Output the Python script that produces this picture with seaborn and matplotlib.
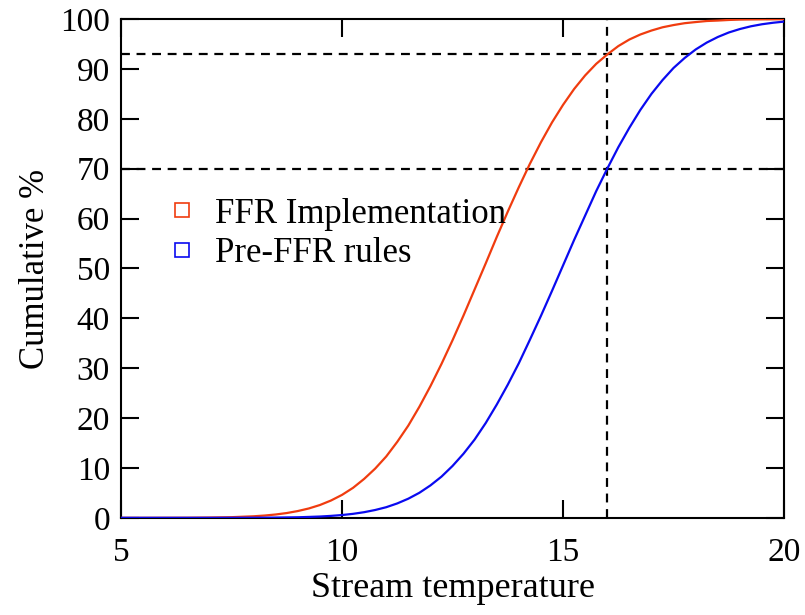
import numpy as np
import pandas as pd
import matplotlib
matplotlib.use("Agg")
import matplotlib.pyplot as plt
import seaborn as sns
from matplotlib.lines import Line2D

RED = "#f03c0f"
BLUE = "#0a0af0"

temps = [5.0, 5.5, 6.0, 6.5, 7.0, 7.5, 8.0, 8.25, 8.5, 8.75, 9.0, 9.25,
         9.5, 9.75, 10.0, 10.25, 10.5, 10.75, 11.0, 11.25, 11.5, 11.75,
         12.0, 12.25, 12.5, 12.75, 13.0, 13.25, 13.5, 13.75, 14.0, 14.25,
         14.5, 14.75, 15.0, 15.25, 15.5, 15.75, 16.0, 16.25, 16.5, 16.75,
         17.0, 17.25, 17.5, 17.75, 18.0, 18.25, 18.5, 18.75, 19.0, 19.25,
         19.5, 19.75, 20.0]
ffr_cum = [0.0, 0.0, 0.01, 0.02, 0.06, 0.13, 0.31, 0.46, 0.67, 0.96, 1.36, 1.88,
           2.57, 3.47, 4.6, 6.02, 7.8, 9.87, 12.3, 15.24, 18.5, 22.27,
           26.4, 30.85, 35.6, 40.6, 45.8, 51.0, 56.3, 61.4, 66.3, 70.98,
           75.3, 79.27, 82.8, 85.97, 88.7, 91.02, 92.9, 94.58, 95.9, 96.91,
           97.7, 98.35, 98.8, 99.17, 99.4, 99.61, 99.7, 99.82, 99.9, 99.93,
           99.95, 99.97, 99.98]
pre_cum = [0.0, 0.0, 0.0, 0.0, 0.0, 0.01, 0.02, 0.03, 0.05, 0.08, 0.11, 0.18,
           0.26, 0.39, 0.56, 0.80, 1.13, 1.57, 2.13, 2.89, 3.84, 5.02,
           6.5, 8.26, 10.4, 12.87, 15.7, 19.0, 22.7, 26.7, 31.0, 35.7,
           40.5, 45.5, 50.6, 55.7, 60.6, 65.5, 70.0, 74.3, 78.2, 81.8,
           85.0, 87.76, 90.2, 92.19, 93.9, 95.28, 96.4, 97.31, 98.0, 98.55,
           98.96, 99.26, 99.49]
series_names = ["FFR Implementation", "Pre-FFR rules"]

# reference lines
h_refs = [93, 70]
v_refs = [16]

x_ticks = [5, 10, 15, 20]
y_ticks = list(range(0, 101, 10))

df = pd.DataFrame({
    "temp": temps * 2,
    "cum": ffr_cum + pre_cum,
    "series": [series_names[0]] * len(temps) + [series_names[1]] * len(temps),
})

sns.set_style("ticks")
plt.rcParams["font.family"] = ["Liberation Serif", "DejaVu Serif"]
plt.rcParams["text.color"] = "black"
plt.rcParams["axes.labelcolor"] = "black"
plt.rcParams["xtick.color"] = "black"
plt.rcParams["ytick.color"] = "black"

fig = plt.figure(figsize=(8.05, 6.15), dpi=100)
ax = fig.add_axes([0.1503, 0.158, 0.8237, 0.811])

sns.lineplot(data=df, x="temp", y="cum", hue="series",
             palette={series_names[0]: RED, series_names[1]: BLUE},
             linewidth=1.6, legend=False, ax=ax, zorder=3)

for y in h_refs:
    ax.axhline(y, color="black", lw=1.6, ls=(0, (4, 3)), zorder=2)
for x in v_refs:
    ax.axvline(x, color="black", lw=1.6, ls=(0, (4, 3)), zorder=2)

ax.set_xlim(5, 20)
ax.set_ylim(0, 100)
ax.set_xticks(x_ticks)
ax.set_yticks(y_ticks)
ax.tick_params(direction="in", length=13, width=1.5, labelsize=24,
               top=True, right=True)
ax.tick_params(axis="x", pad=14)
ax.tick_params(axis="y", pad=8)
for sp in ax.spines.values():
    sp.set_linewidth(1.5)
    sp.set_color("black")

ax.set_xlabel("Stream temperature", fontsize=26, labelpad=3)
ax.set_ylabel("Cumulative %", fontsize=25, labelpad=6)

handles = [Line2D([], [], ls="none", marker="s", markersize=10,
                  markerfacecolor="none", markeredgecolor=c, markeredgewidth=1.2)
           for c in (RED, BLUE)]
ax.legend(handles, series_names, loc="upper left", bbox_to_anchor=(0.045, 0.67),
          frameon=False, fontsize=25, handlelength=1.0, handletextpad=0.45,
          labelspacing=0.18, borderaxespad=0)

fig.savefig("out.png", dpi=100)
